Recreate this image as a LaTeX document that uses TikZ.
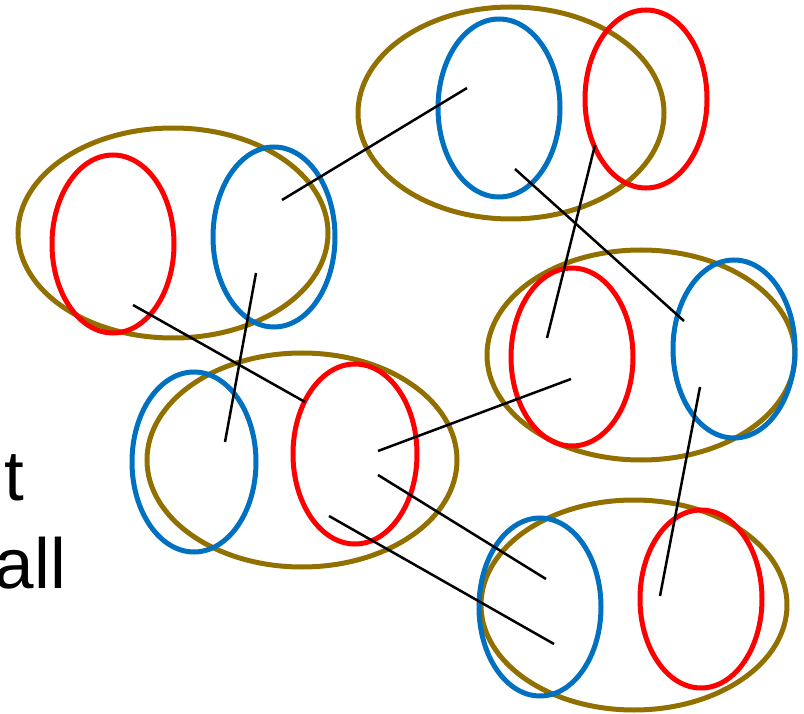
\documentclass[tikz,border=0pt]{standalone}
\usepackage{fontspec}
\setmainfont{Liberation Sans}
\definecolor{gold}{RGB}{145,112,0}
\definecolor{cblue}{RGB}{0,112,192}
\definecolor{cred}{RGB}{255,0,0}
\begin{document}
\begin{tikzpicture}[x=1pt,y=-1pt,
  pair/.style={draw=gold,line width=5pt},
  bl/.style={draw=cblue,line width=5pt},
  rd/.style={draw=cred,line width=5pt},
  link/.style={draw=black,line width=2.5pt},
  txt/.style={inner sep=0pt,font=\fontsize{71}{85}\selectfont}]
\useasboundingbox (0,0) rectangle (804,714);
\clip (0,0) rectangle (804,714);
% text
\node[txt,anchor=base east] (t1) at (24,500) {t};
\node[txt,anchor=base east] (t2) at (66,588) {all};
% group A
\draw[pair] (173,233) ellipse [x radius=155,y radius=105];
\draw[rd] (113,244) ellipse [x radius=61,y radius=89];
\draw[bl] (274,237) ellipse [x radius=61,y radius=90];
% group B
\draw[pair] (511,113) ellipse [x radius=153,y radius=106];
\draw[bl] (499,108) ellipse [x radius=61,y radius=89];
\draw[rd] (646,99) ellipse [x radius=61,y radius=89];
% group C
\draw[pair] (641,355) ellipse [x radius=154,y radius=105];
\draw[rd] (572,357) ellipse [x radius=61,y radius=89];
\draw[bl] (734,349) ellipse [x radius=61,y radius=89];
% group D
\draw[pair] (634,605) ellipse [x radius=153,y radius=105];
\draw[bl] (540,607) ellipse [x radius=61,y radius=89];
\draw[rd] (701,599) ellipse [x radius=61,y radius=89];
% group E
\draw[pair] (302,460) ellipse [x radius=155,y radius=107];
\draw[bl] (194,462) ellipse [x radius=62,y radius=90];
\draw[rd] (355,454) ellipse [x radius=62,y radius=90];
% link end points
\coordinate (a1) at (282,200); \coordinate (b1) at (467,88);
\coordinate (a2) at (256,273); \coordinate (b2) at (225,442);
\coordinate (a3) at (133,305); \coordinate (b3) at (305,402);
\coordinate (a4) at (515,169); \coordinate (b4) at (684,321);
\coordinate (a5) at (595,145); \coordinate (b5) at (547,338);
\coordinate (a6) at (571,379); \coordinate (b6) at (378,451);
\coordinate (a7) at (700,387); \coordinate (b7) at (660,596);
\coordinate (a8) at (378,475); \coordinate (b8) at (546,579);
\coordinate (a9) at (329,516); \coordinate (b9) at (554,644);
\foreach \i in {1,...,9} \draw[link] (a\i) -- (b\i);
\end{tikzpicture}
\end{document}
